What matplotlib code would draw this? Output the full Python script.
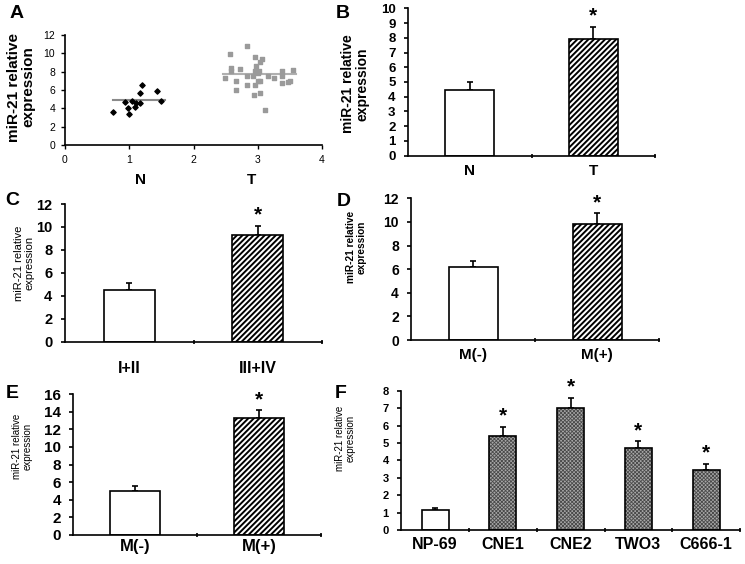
import matplotlib
matplotlib.use("Agg")
import matplotlib.pyplot as plt
import numpy as np

plt.rcParams["font.family"] = ["Liberation Sans", "DejaVu Sans"]
plt.rcParams["hatch.linewidth"] = 1.4

W, H = 745, 564

# ---- data ----
# panel A: scatter of individual samples
n_x = [0.75, 0.94, 0.98, 1.00, 1.04, 1.09, 1.10, 1.16, 1.17, 1.20, 1.43, 1.50]
n_y = [3.57, 4.72, 4.00, 3.38, 4.76, 4.10, 4.54, 4.58, 5.70, 6.54, 5.92, 4.76]
t_x = [2.84, 2.57, 2.95, 3.06, 3.03, 2.98, 2.58, 2.73, 2.58, 2.95, 3.02, 3.00,
       3.38, 3.55, 2.84, 2.92, 2.49, 3.16, 3.25, 3.38, 2.66, 3.00, 3.04, 3.38,
       3.47, 3.50, 2.84, 2.95, 2.66, 3.03, 2.94, 3.12]
t_y = [10.76, 9.96, 9.60, 9.40, 9.05, 8.60, 8.43, 8.32, 8.07, 8.04, 8.10, 7.85,
       8.10, 8.15, 7.52, 7.52, 7.34, 7.56, 7.27, 7.56, 6.98, 7.02, 7.02, 6.80,
       6.84, 7.02, 6.51, 6.51, 6.04, 5.70, 5.42, 3.82]
n_mean, n_span = 4.9, (0.74, 1.55)
t_mean, t_span = 7.78, (2.46, 3.59)
a_groups = ["N", "T"]
a_group_x = [1.17, 2.9]

# panels B-F: mean + upper error
b_cats = ["N", "T"]
b_vals = [4.46, 7.90]
b_errs = [0.56, 0.85]

c_cats = ["I+II", "III+IV"]
c_vals = [4.53, 9.30]
c_errs = [0.56, 0.80]

d_cats = ["M(-)", "M(+)"]
d_vals = [6.20, 9.85]
d_errs = [0.50, 0.88]

e_cats = ["M(-)", "M(+)"]
e_vals = [5.03, 13.30]
e_errs = [0.53, 0.85]

f_cats = ["NP-69", "CNE1", "CNE2", "TWO3", "C666-1"]
f_vals = [1.15, 5.40, 6.99, 4.70, 3.47]
f_errs = [0.15, 0.52, 0.61, 0.40, 0.33]
f_star = [False, True, True, True, True]

fig = plt.figure(figsize=(W / 100, H / 100), dpi=100)


def px_axes(left, right, top, bottom):
    return fig.add_axes([left / W, 1 - bottom / H, (right - left) / W, (bottom - top) / H])


def style_axes(ax):
    for s in ["top", "right"]:
        ax.spines[s].set_visible(False)
    for s in ["left", "bottom"]:
        ax.spines[s].set_linewidth(1.2)


def bar_panel(ax, cats, vals, errs, ymax, ystep, tick_fs, xlab_fs, xpad, stars=None,
              dense=False, star_fs=15):
    style_axes(ax)
    n = len(cats)
    x = np.arange(n) + 0.5
    for i in range(n):
        if dense and i > 0:
            with plt.rc_context({"hatch.linewidth": 0.6}):
                ax.bar(x[i], vals[i], width=0.4, color="#a8a8a8", edgecolor="#4a4a4a",
                       hatch="xxxxxxxxx", linewidth=0, zorder=2)
            ax.bar(x[i], vals[i], width=0.4, facecolor="none", edgecolor="black",
                   linewidth=1.2, zorder=3)
        elif i > 0:
            ax.bar(x[i], vals[i], width=0.4, color="white", edgecolor="black",
                   hatch="//////", linewidth=1.2, zorder=2)
        else:
            ax.bar(x[i], vals[i], width=0.4, color="white", edgecolor="black",
                   linewidth=1.2, zorder=2)
    ax.errorbar(x, vals, yerr=[np.zeros(n), errs], fmt="none", ecolor="black",
                elinewidth=1.2, capsize=2.5, capthick=1.2, zorder=1)
    if stars is None:
        stars = [False] + [True] * (n - 1)
    for i in range(n):
        if stars[i]:
            ax.annotate("*", (x[i], vals[i] + errs[i]), xytext=(0, 1),
                        textcoords="offset points", ha="center", va="bottom",
                        fontsize=star_fs, fontweight="bold")
    ax.set_xlim(0, n)
    ax.set_ylim(0, ymax)
    ax.set_yticks(np.arange(0, ymax + 0.01, ystep))
    ax.set_yticklabels([f"{v:g}" for v in np.arange(0, ymax + 0.01, ystep)],
                       fontsize=tick_fs, fontweight="bold")
    ax.set_xticks(x)
    ax.set_xticklabels(cats, fontsize=xlab_fs, fontweight="bold")
    ax.set_xticks(np.arange(1, n + 1), minor=True)
    ax.tick_params(axis="x", which="major", length=0, pad=xpad)
    ax.tick_params(axis="x", which="minor", length=3, width=1.2, direction="inout")
    ax.tick_params(axis="y", length=3, width=1.2, direction="out", pad=6)


def ylabel(x, y, bold, fs):
    fig.text(x / W, 1 - y / H, "miR-21 relative\nexpression", rotation=90,
             ha="center", va="center", multialignment="center", fontsize=fs,
             fontweight="bold" if bold else "normal", linespacing=1.05)


def panel_label(x, y, s):
    fig.text(x / W, 1 - y / H, s, ha="center", va="center", fontsize=14, fontweight="bold")


# ---- A ----
ax = px_axes(65, 322, 35, 145)
style_axes(ax)
ax.scatter(n_x, n_y, marker="D", s=7, color="black", zorder=3)
ax.scatter(t_x, t_y, marker="s", s=9, color="#9a9a9a", zorder=3)
ax.plot(n_span, [n_mean, n_mean], color="#8a8a8a", lw=1.5, zorder=2)
ax.plot(t_span, [t_mean, t_mean], color="#b0b0b0", lw=1.5, zorder=2)
ax.set_xlim(0, 4)
ax.set_ylim(0, 12)
ax.set_xticks(range(0, 5))
ax.set_yticks(range(0, 13, 2))
ax.tick_params(labelsize=7.5, length=3, width=1.0, pad=4)
for gx, g in zip(a_group_x, a_groups):
    ax.text(gx, -0.32, g, transform=ax.get_xaxis_transform(), ha="center",
            va="center", fontsize=11, fontweight="bold")
ylabel(21, 87, True, 11)
panel_label(17, 14, "A")

# ---- B ----
ax = px_axes(408, 655, 8.3, 155.7)
bar_panel(ax, b_cats, b_vals, b_errs, 10, 1, 9.5, 11, 6)
ylabel(355, 84, True, 10)
panel_label(343, 14, "B")

# ---- C ----
ax = px_axes(65, 322, 204, 341.7)
bar_panel(ax, c_cats, c_vals, c_errs, 12, 2, 10.5, 11.5, 14)
ylabel(24, 263, False, 8)
panel_label(12, 200, "C")

# ---- D ----
ax = px_axes(411.3, 659.3, 198.3, 340)
bar_panel(ax, d_cats, d_vals, d_errs, 12, 2, 10, 11, 6)
ylabel(356, 247, True, 7.3)
panel_label(344, 201, "D")

# ---- E ----
ax = px_axes(73.3, 320.7, 394, 535)
bar_panel(ax, e_cats, e_vals, e_errs, 16, 2, 11, 12, 3)
ylabel(22, 446, False, 7)
panel_label(12, 393, "E")

# ---- F ----
ax = px_axes(401.3, 740, 390.7, 530.3)
bar_panel(ax, f_cats, f_vals, f_errs, 8, 1, 8, 11.5, 5, stars=f_star, dense=True)
ylabel(345, 438, False, 7)
panel_label(341, 393, "F")

fig.savefig("out.png", dpi=100)
